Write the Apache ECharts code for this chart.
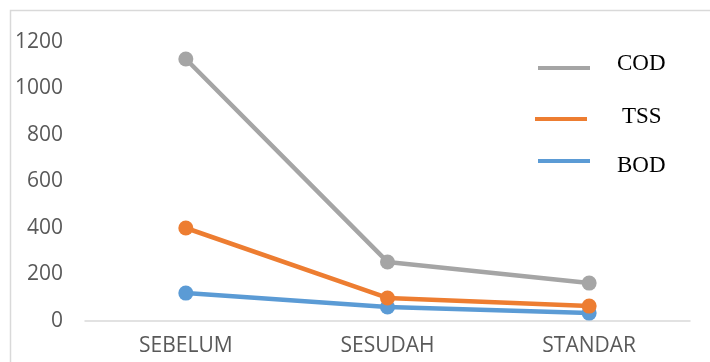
<!DOCTYPE html>
<html>
<head>
<meta charset="utf-8">
<script src="https://cdn.jsdelivr.net/npm/echarts@6/dist/echarts.min.js"></script>
<style>
  html, body { margin: 0; padding: 0; background: #ffffff; }
  #chart { width: 710px; height: 362px; }
</style>
</head>
<body>
<div id="chart"></div>
<script>
// Sampling stages on the x axis
const categories = ['SEBELUM', 'SESUDAH', 'STANDAR'];

// Parameter values (mg/L) per stage
const codValues = [1127, 254, 163];
const tssValues = [400, 99, 64];
const bodValues = [120, 60, 34];

// Value-axis range
const yMin = 0;
const yMax = 1200;
const yStep = 200;

const colors = { COD: '#A5A5A5', TSS: '#ED7D31', BOD: '#5B9BD5' };

const chart = echarts.init(document.getElementById('chart'), null, { renderer: 'canvas' });

function lineSeries(name, values) {
  return {
    name: name,
    type: 'line',
    data: values,
    symbol: 'circle',
    symbolSize: 15,
    color: colors[name],
    lineStyle: { width: 4.5, color: colors[name] },
    itemStyle: { color: colors[name] },
    emphasis: { disabled: true },
    animation: false
  };
}

// One legend block per parameter. The label sits in a rich-text line that is
// taller than the glyphs; aligning the glyphs to its top or bottom nudges the
// label up or down against the line sample.
const LABEL_SIZE = 23;
function legendItem(name, lineCenterY, left, gapLeft, nudge) {
  const boxH = LABEL_SIZE + 2 * Math.abs(nudge);
  return {
    data: [name],
    left: left,
    top: lineCenterY - boxH / 2,
    padding: 0,
    icon: 'rect',
    itemWidth: 52,
    itemHeight: 4,
    selectedMode: false,
    formatter: function (n) { return '{s|}{t|' + n + '}'; },
    textStyle: {
      fontFamily: 'Liberation Serif',
      fontSize: LABEL_SIZE,
      color: '#000000',
      rich: {
        s: { width: gapLeft, height: boxH, lineHeight: boxH },
        t: {
          fontFamily: 'Liberation Serif',
          fontSize: LABEL_SIZE,
          lineHeight: LABEL_SIZE,
          color: '#000000',
          verticalAlign: nudge < 0 ? 'top' : 'bottom'
        }
      }
    }
  };
}

chart.setOption({
  backgroundColor: '#ffffff',
  animation: false,
  graphic: [{
    type: 'rect',
    shape: { x: 10.5, y: 10.5, width: 760, height: 400 },
    style: { fill: 'none', stroke: '#d9d9d9', lineWidth: 1.5 },
    silent: true,
    z: -1
  }],
  legend: [
    legendItem('COD', 68, 538, 22, -4),
    legendItem('TSS', 119, 535, 30, -2),
    legendItem('BOD', 161, 538, 22, 5)
  ],
  grid: { left: 85, right: 20, top: 42, bottom: 41, containLabel: false },
  xAxis: {
    type: 'category',
    data: categories,
    boundaryGap: true,
    axisLine: { show: true, lineStyle: { color: '#d9d9d9', width: 1.5 } },
    axisTick: { show: false },
    axisLabel: {
      margin: 15,
      fontFamily: 'Open Sans',
      fontSize: 21,
      color: '#595959'
    },
    splitLine: { show: false }
  },
  yAxis: {
    type: 'value',
    min: yMin,
    max: yMax,
    interval: yStep,
    axisLine: { show: false },
    axisTick: { show: false },
    splitLine: { show: false },
    axisLabel: {
      margin: 22,
      fontFamily: 'Open Sans',
      fontSize: 21,
      color: '#595959',
      formatter: function (v) { return String(v); }
    }
  },
  series: [
    lineSeries('BOD', bodValues),
    lineSeries('TSS', tssValues),
    lineSeries('COD', codValues)
  ]
});
</script>
</body>
</html>
